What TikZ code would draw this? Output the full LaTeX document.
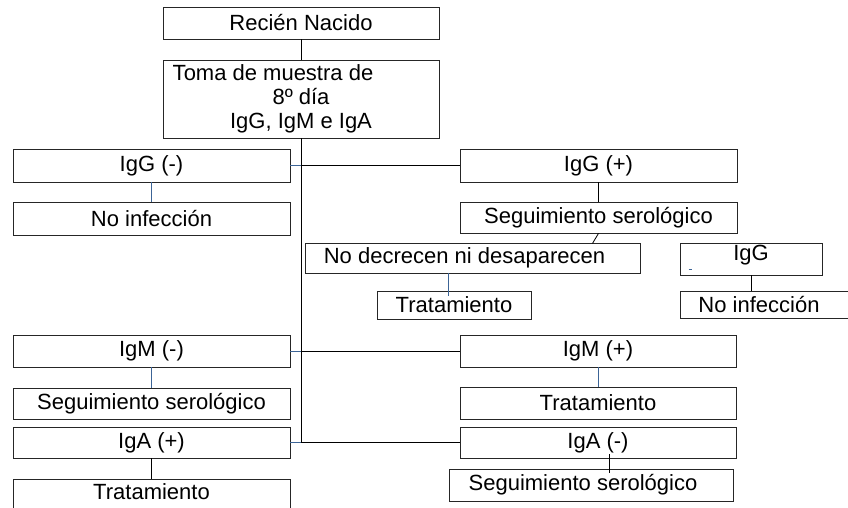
\documentclass[tikz,border=0pt]{standalone}
\usepackage{fontspec}
\setmainfont{Liberation Sans}
\usepackage{xcolor}
\usetikzlibrary{positioning, calc}
\definecolor{azullinea}{RGB}{60,100,150}

\begin{document}
\begin{tikzpicture}[x=1pt, y=-1pt,
    caja/.style={draw=black!85, line width=0.8pt, rectangle, inner sep=0pt,
                 font=\fontsize{22}{24}\selectfont, align=center},
    enlace/.style={line width=0.8pt, black},
    enlaceazul/.style={line width=0.8pt, azullinea}]
    \useasboundingbox (0,0) rectangle (848,508);
    \clip (0,0) rectangle (848,508);

    \node[caja, minimum width=276, minimum height=32] (recien) at (301,23) {Recién Nacido};
    \node[caja, minimum width=276, minimum height=78] (toma) at (301,99)
        {Toma de muestra de\hspace*{56pt}\\8º día\\IgG, IgM e IgA};

    \node[caja, minimum width=277, minimum height=33] (iggneg) at (151.5,165.5) {IgG (-)};
    \node[caja, minimum width=277, minimum height=33] (noinfl) at (151.5,218.5) {No infección};
    \node[caja, minimum width=277, minimum height=33] (iggpos) at (598.5,165.5) {IgG (+)};
    \node[caja, minimum width=277, minimum height=31] (segd) at (598.5,217.5) {Seguimiento serológico};
    \node[caja, minimum width=335, minimum height=30] (nodec) at (472.5,258)
        {No decrecen ni desaparecen\hspace*{16pt}};
    \node[caja, minimum width=154, minimum height=28] (tratm) at (454,305) {Tratamiento};
    \node[caja, minimum width=142, minimum height=32] (igr) at (751,259) {\raisebox{12pt}{IgG}};
    \node[caja, minimum width=200, minimum height=27] (noinfr) at (780,304.5)
        {No infección\hspace*{42pt}};

    \node[caja, minimum width=277, minimum height=32] (igmneg) at (151.5,351) {IgM (-)};
    \node[caja, minimum width=277, minimum height=31] (segl) at (151.5,403.5) {Seguimiento serológico};
    \node[caja, minimum width=277, minimum height=31] (igapos) at (151.5,442.5) {IgA (+)};
    \node[caja, minimum width=277, minimum height=36] (tratl) at (151.5,497) {\raisebox{10pt}{Tratamiento}};

    \node[caja, minimum width=276, minimum height=32] (igmpos) at (598,351) {IgM (+)};
    \node[caja, minimum width=276, minimum height=32] (tratr) at (598,403) {Tratamiento};
    \node[caja, minimum width=276, minimum height=31] (iganeg) at (598,442.5) {IgA (-)};
    \node[caja, minimum width=284, minimum height=32] (segb) at (591,485)
        {\raisebox{3pt}{Seguimiento serológico}\hspace*{16pt}};

    % tronco
    \draw[enlace] (recien.south) -- (toma.north);
    \draw[enlace] (toma.south) -- (toma.south |- igapos.east);

    % ramas
    \draw[enlaceazul] (iggneg.east) -- (iggneg.east -| toma.south);
    \draw[enlace] (iggneg.east -| toma.south) -- (iggpos.west);
    \draw[enlaceazul] (igmneg.east) -- (igmneg.east -| toma.south);
    \draw[enlace] (igmneg.east -| toma.south) -- (igmpos.west);
    \draw[enlaceazul] (igapos.east) -- (igapos.east -| toma.south);
    \draw[enlace] (igapos.east -| toma.south) -- (iganeg.west);

    \draw[enlaceazul] (iggneg.south) -- (noinfl.north);
    \draw[enlace] (iggpos.south) -- (segd.north);
    \draw[enlace] (segd.south) -- ++(-6,10);
    \coordinate (ctrat) at ($(tratm.north)+(-6,0)$);
    \draw[enlaceazul] ([yshift=-5pt]ctrat) -- (ctrat |- nodec.south);
    \draw[enlace] (igr.south) -- (noinfr.north -| igr.south);
    \draw[enlaceazul] ([xshift=9pt,yshift=6pt]igr.south west) -- ++(3,0);

    \draw[enlaceazul] (igmneg.south) -- (segl.north);
    \draw[enlace] (igapos.south) -- (tratl.north);
    \draw[enlaceazul] (igmpos.south) -- (tratr.north);
    \draw[enlace] ([xshift=11pt,yshift=4pt]iganeg.south) -- ([xshift=18pt,yshift=-4pt]segb.north);
\end{tikzpicture}
\end{document}
